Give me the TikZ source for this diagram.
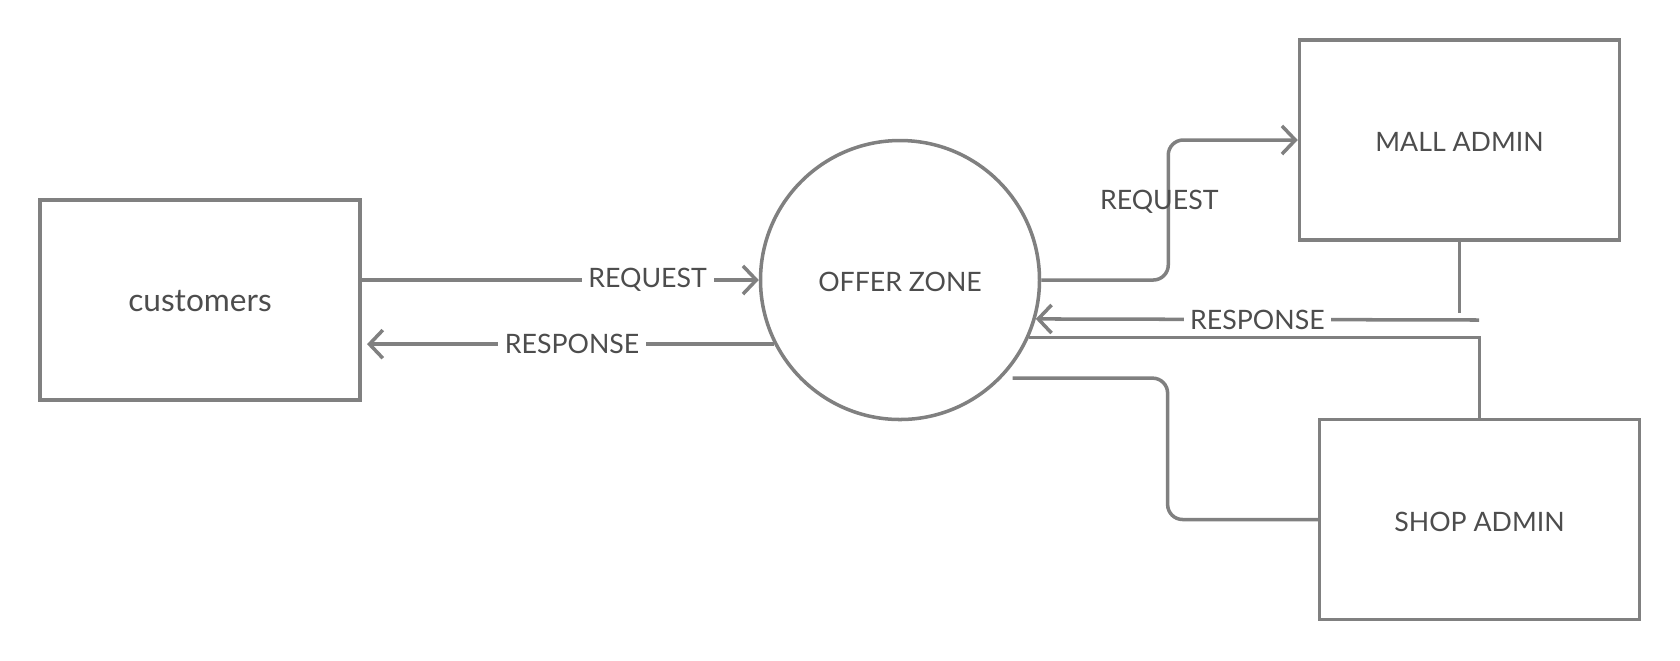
\documentclass[tikz,border=0pt]{standalone}
\usepackage{xcolor}
\usepackage{fontspec}
\setmainfont{Lato}
\usepackage{tikz}
\usetikzlibrary{arrows.meta}

\definecolor{linegray}{HTML}{808080}
\definecolor{textgray}{HTML}{4D4D4D}

\begin{document}
\begin{tikzpicture}[>={Straight Barb[length=3.8pt,width=8pt]},line width=1pt,color=linegray,text=textgray,
    entity node/.style={rectangle,draw,minimum width=3.2cm,minimum height=2cm,text height=2.35mm,text depth=0pt,font=\fontsize{7.6}{10}\selectfont},
    process node/.style={circle,draw,minimum size=2.79cm,text height=2.35mm,text depth=0pt,font=\fontsize{7.6}{10}\selectfont},
    flow label/.style={fill=white,inner sep=1.9pt,font=\fontsize{7.6}{10}\selectfont}]
    \useasboundingbox (0,0) rectangle (16.8,-6.6);

    \node[entity node] (cust) at (2.00,-3.00) {\fontsize{9}{11}\selectfont customers};
    \node[process node] (zone) at (9.00,-2.80) {OFFER ZONE};
    \node[entity node] (mall) at (14.595,-1.40) {MALL ADMIN};
    \node[entity node] (shop) at (14.795,-5.195) {SHOP ADMIN};
    \coordinate (mallturn) at (14.79,-3.20);

    % customers <-> offer zone
    \draw[->] (cust.east |- zone.west) -- node[flow label,pos=0.72] {REQUEST} (zone.west);
    \draw[->,shorten >=1.5pt] (zone.207.5) -- node[flow label,pos=0.49] {RESPONSE} (cust.east |- zone.207.5);

    % offer zone <-> admins
    \draw[->,rounded corners=0.15cm] (zone.east) -- ++(1.27,0) |- node[pos=0.28,xshift=-0.9mm,font=\fontsize{7.6}{10}\selectfont] {REQUEST} (mall.west);
    \draw (mall.south) -- ([yshift=0.7mm]mall.south |- mallturn);
    \draw[->] (mallturn) -- node[flow label,pos=0.5] {RESPONSE} (zone.-16.7);
    \draw (shop.north) |- (zone.-24.6);
    \draw[rounded corners=0.15cm] ([xshift=1.1mm]zone.-44) -- ++(1.55,0) |- (shop.west);
\end{tikzpicture}
\end{document}
